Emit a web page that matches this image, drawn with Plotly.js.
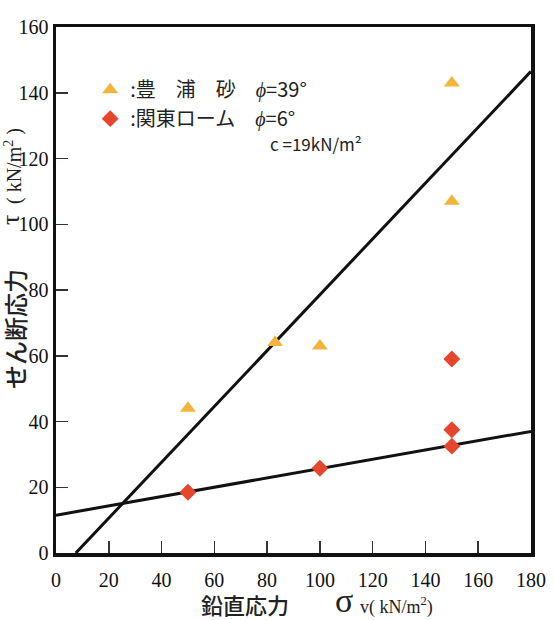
<!DOCTYPE html>
<html>
<head>
<meta charset="utf-8">
<script src="https://cdn.plot.ly/plotly-3.0.1.min.js"></script>
<style>html,body{margin:0;padding:0;background:#fff;}</style>
</head>
<body>
<div id="chart" style="width:555px;height:620px;"></div>
<script>
// Toyoura sand (triangles)
const sandX = [50, 83, 100, 150, 150];
const sandY = [44, 64, 63, 143, 107];
// Kanto loam (diamonds)
const loamX = [50, 100, 150, 150, 150];
const loamY = [18.5, 25.8, 32.5, 37.5, 59];
// Fitted failure lines
const sandLineX = [7.5, 180];
const sandLineY = [0, 146.5];
const loamLineX = [0, 180];
const loamLineY = [11.5, 37];
// Labels
const sandName = ':豊　浦　砂　<i>ϕ</i>=39°';
const loamName = ':関東ローム　<i>ϕ</i>=6°';
const loamC = 'c =19kN/m²';
const xTicks = [0, 20, 40, 60, 80, 100, 120, 140, 160, 180];
const yTicks = [0, 20, 40, 60, 80, 100, 120, 140, 160];
const xTitleJa = '鉛直応力';
const xTitleSym = 'σ';
const xTitleUnit = 'v( kN/m<sup>2</sup>)';
const yTitleJa = 'せん断応力';
const yTitleSym = 'τ';
const yTitleUnit = '( kN/m<sup>2</sup> )';

const serif = 'Liberation Serif';
const sans = 'Noto Sans CJK JP';

const traces = [
  {x: sandLineX, y: sandLineY, mode: 'lines', line: {color: '#111', width: 3}, showlegend: false, hoverinfo: 'skip'},
  {x: loamLineX, y: loamLineY, mode: 'lines', line: {color: '#111', width: 3}, showlegend: false, hoverinfo: 'skip'},
  {x: sandX, y: sandY, mode: 'markers', name: sandName,
   marker: {symbol: 'triangle-up', size: 14, color: '#F1B53D'}},
  {x: loamX, y: loamY, mode: 'markers', name: loamName,
   marker: {symbol: 'diamond', size: 13, color: '#E4472D'}}
];

const P = (px) => (553 - px) / 526;   // helper: pixel row -> paper y
const Q = (px) => (px - 56) / 475;    // helper: pixel col -> paper x

const layout = {
  width: 555, height: 620,
  margin: {l: 56, r: 24, t: 27, b: 67},
  paper_bgcolor: '#fff', plot_bgcolor: '#fff',
  showlegend: true,
  legend: {x: 0.072, y: 0.918, xanchor: 'left', yanchor: 'top',
    bgcolor: 'rgba(0,0,0,0)', font: {family: sans, size: 20, color: '#222'},
    tracegroupgap: 0, itemwidth: 30},
  xaxis: {range: [0, 180], tickvals: xTicks, ticks: 'inside', ticklen: 12, tickwidth: 1.5, tickcolor: '#333',
    showline: true, linewidth: 3.5, linecolor: '#111', mirror: true, showgrid: false, zeroline: false,
    ticklabelstandoff: 6,
    tickfont: {family: serif, size: 20, color: '#111'}, fixedrange: true},
  yaxis: {range: [0, 160], tickvals: yTicks, ticks: 'inside', ticklen: 12, tickwidth: 1.5, tickcolor: '#333',
    showline: true, linewidth: 3.5, linecolor: '#111', mirror: true, showgrid: false, zeroline: false,
    tickfont: {family: serif, size: 20, color: '#111'}, fixedrange: true},
  annotations: [
    {xref: 'paper', yref: 'paper', x: Q(268), y: P(144), xanchor: 'left', yanchor: 'middle', showarrow: false,
     text: loamC, font: {family: sans, size: 17, color: '#222'}},
    // x title
    {xref: 'paper', yref: 'paper', x: Q(199), y: P(604), xanchor: 'left', yanchor: 'middle', showarrow: false,
     text: xTitleJa, font: {family: sans, size: 22, weight: 500, color: '#222'}},
    {xref: 'paper', yref: 'paper', x: Q(333), y: P(600), xanchor: 'left', yanchor: 'middle', showarrow: false,
     text: xTitleSym, font: {family: serif, size: 34, color: '#222'}},
    {xref: 'paper', yref: 'paper', x: Q(358), y: P(606), xanchor: 'left', yanchor: 'middle', showarrow: false,
     text: xTitleUnit, font: {family: serif, size: 18, color: '#222'}},
    // y title
    {xref: 'paper', yref: 'paper', x: Q(14), y: P(329), xanchor: 'center', yanchor: 'middle', showarrow: false, textangle: -90,
     text: yTitleJa, font: {family: sans, size: 24, weight: 500, color: '#222'}},
    {xref: 'paper', yref: 'paper', x: Q(11), y: P(220), xanchor: 'center', yanchor: 'middle', showarrow: false, textangle: -90,
     text: yTitleSym, font: {family: serif, size: 26, color: '#222'}},
    {xref: 'paper', yref: 'paper', x: Q(13), y: P(166), xanchor: 'center', yanchor: 'middle', showarrow: false, textangle: -90,
     text: yTitleUnit, font: {family: serif, size: 20, color: '#222'}}
  ]
};

Plotly.newPlot('chart', traces, layout, {displayModeBar: false, staticPlot: true});
</script>
</body>
</html>
